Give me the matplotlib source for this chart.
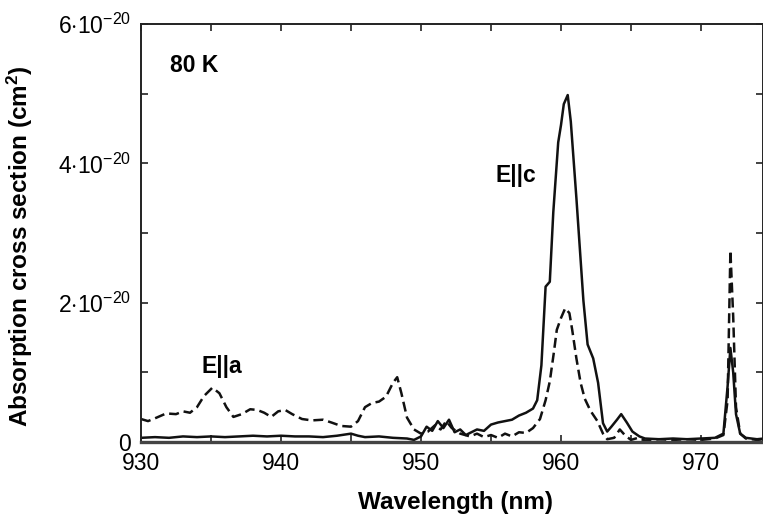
import numpy as np
import matplotlib
matplotlib.use('Agg')
import matplotlib.pyplot as plt

plt.rcParams['font.family'] = ['Liberation Sans', 'DejaVu Sans']
plt.rcParams['mathtext.fontset'] = 'custom'
plt.rcParams['mathtext.rm'] = 'Liberation Sans'
plt.rcParams['mathtext.it'] = 'Liberation Sans:italic'
plt.rcParams['mathtext.bf'] = 'Liberation Sans:bold'

# E||a polarisation (dashed), cross section in units of 1e-20 cm^2
wl_a = [930.0, 930.5, 931.0, 931.8, 932.5, 933.0, 933.5, 934.0, 934.5, 935.1,
        935.6, 936.1, 936.6, 937.2, 937.8, 938.3, 938.8, 939.3, 939.8, 940.3,
        940.8, 941.5, 942.2, 943.0, 943.6, 944.3, 945.0, 945.5, 946.0, 946.5,
        947.0, 947.5, 948.0, 948.3, 948.6, 949.0, 949.5, 950.0, 950.5, 951.0,
        951.4, 951.8, 952.2, 952.8, 953.5, 954.0, 954.5, 955.0, 955.5, 956.0,
        956.5, 957.0, 957.5, 958.0, 958.5, 958.9, 959.2, 959.5, 959.7, 960.0,
        960.3, 960.6, 960.8, 961.1, 961.4, 961.7, 962.1, 962.6, 963.0, 963.3,
        963.8, 964.2, 964.6, 965.0, 965.5, 966.0, 967.0, 968.0, 969.0, 970.0,
        971.0, 971.6, 971.9, 972.1, 972.3, 972.5, 972.8, 973.2, 974.0, 974.5]
sigma_a = [0.33, 0.30, 0.34, 0.41, 0.40, 0.44, 0.42, 0.50, 0.66, 0.78,
           0.70, 0.50, 0.36, 0.40, 0.47, 0.46, 0.42, 0.36, 0.44, 0.46,
           0.40, 0.33, 0.31, 0.32, 0.28, 0.23, 0.22, 0.30, 0.50, 0.56,
           0.58, 0.65, 0.85, 0.93, 0.70, 0.35, 0.18, 0.12, 0.15, 0.24,
           0.18, 0.30, 0.20, 0.12, 0.08, 0.12, 0.07, 0.10, 0.06, 0.12,
           0.08, 0.14, 0.13, 0.20, 0.33, 0.60, 0.87, 1.30, 1.61, 1.78,
           1.92, 1.85, 1.61, 1.20, 0.85, 0.62, 0.45, 0.30, 0.12, 0.04,
           0.06, 0.18, 0.09, 0.03, 0.06, 0.02, 0.04, 0.03, 0.04, 0.03,
           0.05, 0.10, 0.60, 2.75, 1.80, 0.50, 0.12, 0.05, 0.03, 0.04]

# E||c polarisation (solid)
wl_c = [930.0, 931.0, 932.0, 933.0, 934.0, 935.0, 936.0, 937.0, 938.0, 939.0,
        940.0, 941.0, 942.0, 943.0, 944.0, 945.0, 945.5, 946.0, 947.0, 948.0,
        949.0, 949.5, 950.0, 950.4, 950.8, 951.2, 951.6, 952.0, 952.4, 952.8,
        953.2, 953.6, 954.0, 954.5, 955.0, 955.5, 956.0, 956.5, 957.0, 957.5,
        958.0, 958.3, 958.6, 958.9, 959.2, 959.45, 959.8, 960.0, 960.2, 960.48,
        960.7, 961.1, 961.6, 961.9, 962.3, 962.65, 963.0, 963.3, 963.6, 964.0,
        964.3, 964.7, 965.1, 965.6, 966.0, 967.0, 968.0, 969.0, 970.0, 971.0,
        971.6, 971.9, 972.1, 972.3, 972.5, 972.8, 973.2, 974.0, 974.5]
sigma_c = [0.06, 0.07, 0.06, 0.08, 0.07, 0.08, 0.07, 0.08, 0.09, 0.08,
           0.09, 0.08, 0.08, 0.07, 0.09, 0.12, 0.09, 0.07, 0.08, 0.06,
           0.05, 0.03, 0.08, 0.22, 0.16, 0.30, 0.20, 0.32, 0.14, 0.18,
           0.10, 0.14, 0.18, 0.16, 0.25, 0.28, 0.30, 0.32, 0.38, 0.42,
           0.48, 0.60, 1.10, 2.23, 2.30, 3.30, 4.30, 4.55, 4.85, 4.98,
           4.60, 3.50, 2.03, 1.40, 1.20, 0.85, 0.27, 0.15, 0.22, 0.32,
           0.40, 0.28, 0.15, 0.08, 0.05, 0.04, 0.05, 0.04, 0.05, 0.06,
           0.12, 0.80, 1.35, 1.00, 0.40, 0.12, 0.06, 0.04, 0.05]

x_ticks = [930, 940, 950, 960, 970]
y_ticks = [0, 2, 4, 6]
y_tick_labels = ['0', r'2$\cdot$10$^{\mathrm{-20}}$', r'4$\cdot$10$^{\mathrm{-20}}$',
                 r'6$\cdot$10$^{\mathrm{-20}}$']

scale = 1e-20

fig = plt.figure(figsize=(7.63, 5.16), dpi=100)
ax = fig.add_axes([141 / 763, 74 / 516, 622 / 763, 418 / 516])

ax.plot(wl_c, np.array(sigma_c) * scale, color='#111111', lw=1.8)
ax.plot(wl_a, np.array(sigma_a) * scale, color='#111111', lw=1.8,
        linestyle=(0, (4, 2)))

ax.set_xlim(930, 930 + 622 / 14)
ax.set_ylim(0, 6 * scale)

ax.set_xticks(x_ticks)
ax.set_xticks(np.arange(935, 975, 10), minor=True)
ax.set_yticks(np.array(y_ticks) * scale)
ax.set_yticks(np.array([1, 3, 5]) * scale, minor=True)
ax.set_yticklabels(y_tick_labels)

ax.tick_params(which='both', direction='in', length=5, width=1.2,
               top=True, right=True, labelsize=16.5, pad=7, color='#222222')

for side in ['left', 'top', 'right']:
    ax.spines[side].set_linewidth(1.4)
    ax.spines[side].set_color('#222222')
ax.spines['bottom'].set_linewidth(2.4)
ax.spines['bottom'].set_color('#444444')

ax.text(932.1, 5.41 * scale, '80 K', fontsize=16.5, fontweight='bold', va='center')
ax.text(955.3, 3.83 * scale, 'E||c', fontsize=16.5, fontweight='bold', va='center')
ax.text(934.3, 1.09 * scale, 'E||a', fontsize=16.5, fontweight='bold', va='center')

fig.text(455 / 763, 1 - 502 / 516, 'Wavelength (nm)', fontsize=17.5,
         fontweight='bold', ha='center', va='center')
fig.text(20 / 763, 1 - 246 / 516, 'Absorption cross section (cm$^{\\mathbf{2}}$)',
         fontsize=17.5, fontweight='bold', ha='center', va='center', rotation=90)

fig.savefig('out.png', dpi=100)
